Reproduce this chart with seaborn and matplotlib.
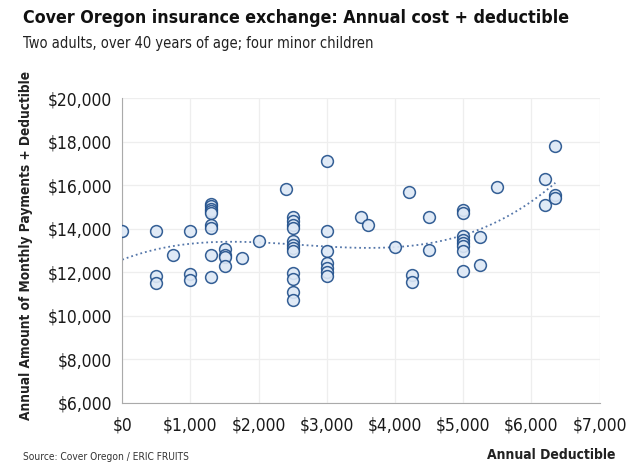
import matplotlib
matplotlib.use("Agg")
import matplotlib.pyplot as plt
import matplotlib.ticker as mticker
import seaborn as sns
import pandas as pd

# Deductible ($) and annual cost + deductible ($) per plan
deductible = [0, 500, 500, 500, 750, 1000, 1000, 1000,
              1300, 1300, 1300, 1300, 1300, 1300, 1300, 1300, 1300,
              1500, 1500, 1500, 1500, 1750, 2000, 2400,
              2500, 2500, 2500, 2500, 2500, 2500, 2500, 2500, 2500, 2500, 2500, 2500,
              3000, 3000, 3000, 3000, 3000, 3000, 3000,
              3500, 3600, 4000, 4200, 4250, 4250, 4500, 4500,
              5000, 5000, 5000, 5000, 5000, 5000, 5000, 5000,
              5250, 5250, 5500, 6200, 6200, 6350, 6350, 6350]
total_cost = [13900, 13900, 11850, 11500, 12800, 13900, 11900, 11650,
              15150, 15050, 14900, 14800, 14700, 14180, 14030, 12800, 11780,
              13050, 12800, 12680, 12270, 12650, 13420, 15820,
              14560, 14370, 14180, 14030, 13420, 13270, 13120, 12990, 11960, 11700, 11090, 10740,
              17100, 13880, 12990, 12420, 12190, 12010, 11810,
              14560, 14170, 13160, 15700, 11860, 11540, 14560, 13030,
              14870, 14720, 13650, 13500, 13340, 13190, 12960, 12040,
              13600, 12330, 15910, 16290, 15100, 17780, 15530, 15400]

df = pd.DataFrame({"deductible": deductible, "cost": total_cost})

sns.set_style("white")
plt.rcParams["font.family"] = ["DejaVu Sans"]
plt.rcParams["font.stretch"] = "condensed"

fig = plt.figure(figsize=(6.4, 4.74), dpi=100)
ax = fig.add_axes([0.191, 0.150, 0.746, 0.643])

edge = "#1f4e8a"
sns.regplot(data=df, x="deductible", y="cost", order=3, ci=None, scatter=False,
            ax=ax, line_kws={"color": "#5577aa", "lw": 1.3, "ls": ":"})
sns.scatterplot(data=df, x="deductible", y="cost", ax=ax, s=72,
                color="#dde8f6", edgecolor=edge, linewidth=1.1, alpha=0.9, zorder=3)

ax.set_xlim(0, 7000)
ax.set_ylim(6000, 20000)
ax.xaxis.set_major_locator(mticker.MultipleLocator(1000))
ax.yaxis.set_major_locator(mticker.MultipleLocator(2000))
ax.xaxis.set_major_formatter(mticker.StrMethodFormatter("${x:,.0f}"))
ax.yaxis.set_major_formatter(mticker.StrMethodFormatter("${x:,.0f}"))
ax.grid(True, color="#eeeeee", lw=0.9)
ax.set_axisbelow(True)
for s in ["top", "right"]:
    ax.spines[s].set_visible(False)
for s in ["left", "bottom"]:
    ax.spines[s].set_color("#aaaaaa")
ax.tick_params(axis="both", length=4, color="#aaaaaa", labelsize=12.5, labelcolor="#1a1a1a")
ax.tick_params(axis="x", pad=6)
ax.set_xlabel("")
ax.set_ylabel("Annual Amount of Monthly Payments + Deductible",
              fontsize=9.8, fontweight="bold", color="#222222")
ax.yaxis.set_label_coords(-0.187, 0.518)

fig.text(0.036, 0.961, "Cover Oregon insurance exchange: Annual cost + deductible",
         fontsize=12.8, fontweight="bold", color="#111111", va="center")
fig.text(0.036, 0.909, "Two adults, over 40 years of age; four minor children",
         fontsize=10.5, color="#222222", va="center")
fig.text(0.962, 0.040, "Annual Deductible", fontsize=10, fontweight="bold",
         color="#222222", ha="right", va="center")
fig.text(0.036, 0.036, "Source: Cover Oregon / ERIC FRUITS", fontsize=7.3,
         color="#333333", va="center")

fig.savefig("out.png", dpi=100)
